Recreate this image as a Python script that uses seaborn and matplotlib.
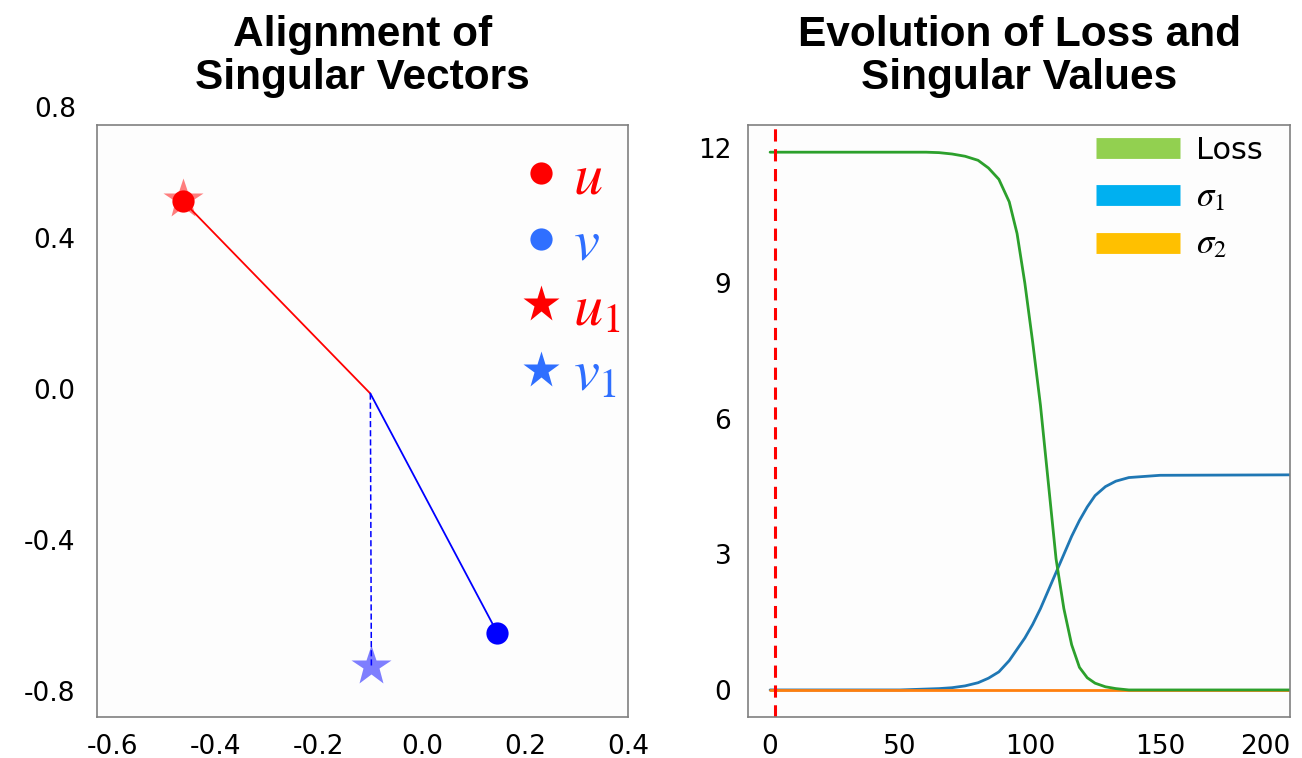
import numpy as np
import pandas as pd
import matplotlib
matplotlib.use("Agg")
import matplotlib.pyplot as plt
import seaborn as sns
from matplotlib.lines import Line2D

# left panel: singular vectors
u = (-0.463, 0.498)
u1 = (-0.463, 0.505)
v = (0.146, -0.646)
v1 = (-0.098, -0.734)
joint = (-0.100, -0.012)

# right panel: training curves
steps = [0, 30, 50, 60, 65, 70, 75, 80, 84, 88, 92, 95, 98, 101, 104, 107, 110, 113,
         116, 119, 122, 125, 129, 133, 138, 150, 200]
loss = [11.9, 11.9, 11.9, 11.9, 11.89, 11.86, 11.81, 11.72, 11.55, 11.3, 10.8, 10.1,
        9.0, 7.7, 6.3, 4.6, 2.9, 1.8, 1.0, 0.5, 0.27, 0.15, 0.07, 0.03, 0.0, 0.0, 0.0]
sigma1 = [0.0, 0.0, 0.0, 0.02, 0.03, 0.05, 0.09, 0.16, 0.26, 0.4, 0.65, 0.9,
          1.15, 1.45, 1.8, 2.2, 2.6, 3.0, 3.4, 3.75, 4.05, 4.3, 4.5, 4.62, 4.7, 4.75, 4.76]
sigma2 = [0.0] * len(steps)
marker_step = 2

sns.set_theme(style="white")
plt.rcParams['font.family'] = ['DejaVu Sans']
plt.rcParams['mathtext.fontset'] = 'stix'
plt.rcParams['axes.unicode_minus'] = False
plt.rcParams['text.color'] = 'black'

fig = plt.figure(figsize=(13.02, 7.58), dpi=100)
ax1 = fig.add_axes([0.0745, 0.054, 0.408, 0.781])
ax2 = fig.add_axes([0.5745, 0.054, 0.4163, 0.781])

tick_fs = 19
title_font = dict(family='Liberation Sans', weight='bold', size=30.5, color='black',
                  linespacing=1.1)

# ---- left panel
seg_red = pd.DataFrame({'x': [u[0], joint[0]], 'y': [u[1], joint[1]]})
seg_blue = pd.DataFrame({'x': [joint[0], v[0]], 'y': [joint[1], v[1]]})
seg_dash = pd.DataFrame({'x': [joint[0], v1[0]], 'y': [joint[1], v1[1]]})
sns.lineplot(data=seg_red, x='x', y='y', color='red', lw=1.3, sort=False, ax=ax1)
sns.lineplot(data=seg_blue, x='x', y='y', color='blue', lw=1.3, sort=False, ax=ax1)
ax1.plot(seg_dash['x'], seg_dash['y'], color='blue', lw=1.1, ls=(0, (4, 2)))
ax1.plot(*u1, marker='*', ms=30, color='red', alpha=0.5, mec='none', zorder=3)
ax1.plot(*v1, marker='*', ms=30, color='blue', alpha=0.5, mec='none', zorder=3)
ax1.plot(*u, marker='o', ms=16, color='red', mec='none', zorder=4)
ax1.plot(*v, marker='o', ms=16, color='blue', mec='none', zorder=4)

ax1.set_xlim(-0.63, 0.40)
ax1.set_ylim(-0.87, 0.70)
ax1.set_xticks([-0.6, -0.4, -0.2, 0.0, 0.2, 0.4])
ax1.set_yticks([-0.8, -0.4, 0.0, 0.4])
ax1.text(-0.04, 1.025, '0.8', transform=ax1.transAxes, ha='right', va='center',
         fontsize=tick_fs, color='black')
ax1.set_xlabel('')
ax1.set_ylabel('')
ax1.set_title('Alignment of\nSingular Vectors', pad=26, **title_font)

leg_red = 'red'
leg_blue = '#2f6fff'
handles1 = [
    Line2D([], [], ls='none', marker='o', ms=16, color=leg_red, mec='none'),
    Line2D([], [], ls='none', marker='o', ms=16, color=leg_blue, mec='none'),
    Line2D([], [], ls='none', marker='*', ms=28, color=leg_red, mec='none'),
    Line2D([], [], ls='none', marker='*', ms=28, color=leg_blue, mec='none'),
]
labels1 = ['$u$', '$v$', '$u_1$', '$v_1$']
ax1.legend(handles1, labels1, loc='upper right', bbox_to_anchor=(1.03, 1.0),
           frameon=False, fontsize=42, labelcolor=[leg_red, leg_blue, leg_red, leg_blue],
           handlelength=0.8, handletextpad=0.15, labelspacing=0.15, borderaxespad=0)

# ---- right panel
curves = pd.DataFrame({'step': steps, 'Loss': loss, 'sigma1': sigma1, 'sigma2': sigma2})
sns.lineplot(data=curves, x='step', y='sigma1', color='#1f77b4', lw=2, ax=ax2)
sns.lineplot(data=curves, x='step', y='sigma2', color='#ff7f0e', lw=2, ax=ax2)
sns.lineplot(data=curves, x='step', y='Loss', color='#2ca02c', lw=2, ax=ax2)
ax2.axvline(marker_step, color='red', lw=2.2, ls=(0, (4, 2.5)))

ax2.set_xlim(-8.5, 200)
ax2.set_ylim(-0.6, 12.5)
ax2.set_xticks([0, 50, 100, 150, 200])
ax2.set_yticks([0, 3, 6, 9, 12])
ax2.set_xlabel('')
ax2.set_ylabel('')
ax2.set_title('Evolution of Loss and\nSingular Values', pad=26, **title_font)

handles2 = [Line2D([], [], color=c, lw=15, solid_capstyle='butt')
            for c in ['#92d050', '#00b0f0', '#ffc000']]
leg2 = ax2.legend(handles2, ['Loss', r'$\sigma_1$', r'$\sigma_2$'], loc='upper right',
                  bbox_to_anchor=(1.0, 1.028), frameon=False, fontsize=22,
                  handlelength=2.75, handletextpad=0.5, labelspacing=0.45,
                  labelcolor='black')
for t in leg2.get_texts()[1:]:
    t.set_fontsize(25)

for ax in (ax1, ax2):
    ax.set_facecolor('#fdfdfd')
    for s in ax.spines.values():
        s.set_color('#808080')
        s.set_linewidth(1.2)
    ax.tick_params(length=0, labelsize=tick_fs, colors='black', pad=12)
ax1.tick_params(axis='y', pad=16)

ax2.get_xticklabels()[-1].set_horizontalalignment('right')

fig.savefig('out.png', dpi=100, facecolor='white')
